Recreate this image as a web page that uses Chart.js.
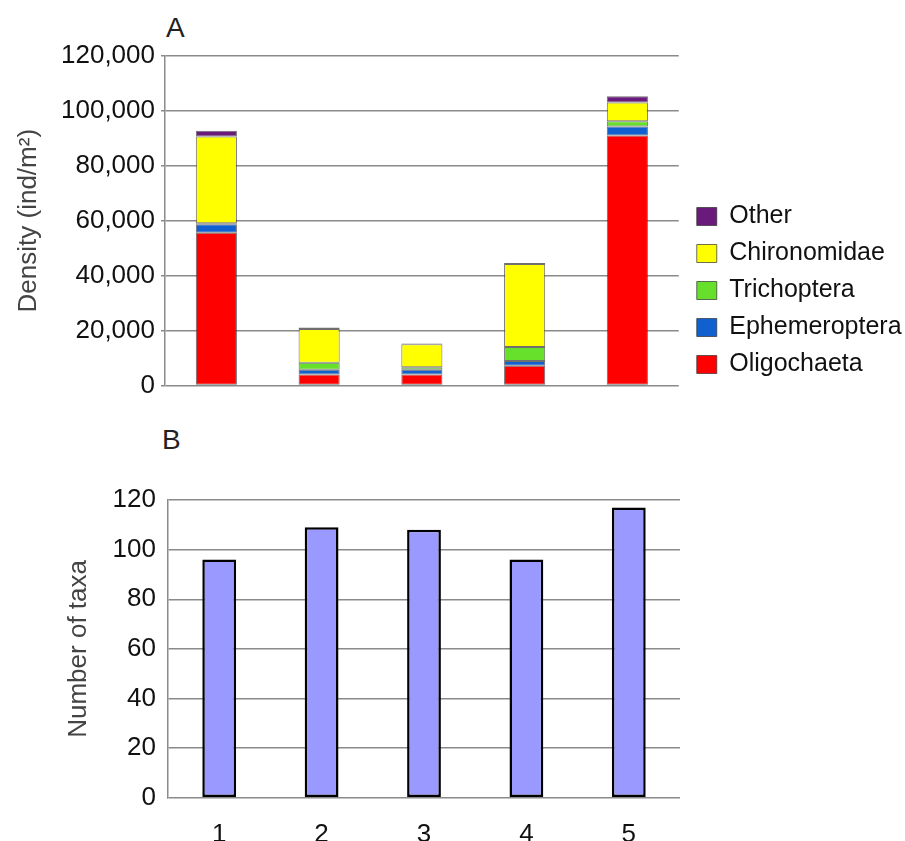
<!DOCTYPE html>
<html>
<head>
<meta charset="utf-8">
<script src="https://cdn.jsdelivr.net/npm/chart.js@4"></script>
<style>
  body { margin: 0; background: #fff; width: 905px; height: 841px; position: relative; overflow: hidden; }
  .panel { position: absolute; left: 0; }
  .tag { position: absolute; font-family: "Liberation Sans", Arial, sans-serif; font-size: 28px; color: #222; }
</style>
</head>
<body>
<div class="tag" style="left:166px; top:12px;">A</div>
<div class="tag" style="left:162px; top:424px;">B</div>
<canvas id="densityChart" class="panel" style="top:0px" width="905" height="407"></canvas>
<canvas id="taxaChart" class="panel" style="top:420px" width="905" height="443"></canvas>
<script>
const sites = ['1', '2', '3', '4', '5'];

// density per group, stacked bottom to top
const oligochaeta = [55600, 4000, 4000, 7200, 91000];
const ephemeroptera = [3150, 1700, 1700, 1700, 3300];
const trichoptera = [300, 2550, 950, 5100, 1900];
const chironomidae = [31650, 12300, 8300, 30200, 6900];
const other = [2100, 500, 300, 400, 2200];

const taxaCount = [96, 109, 108, 96, 117];

const fontFamily = '"Liberation Sans", Arial, sans-serif';
const gridColor = '#8a8a8a';

const densitySets = [
  { label: 'Oligochaeta', data: oligochaeta, backgroundColor: '#ff0000' },
  { label: 'Ephemeroptera', data: ephemeroptera, backgroundColor: '#1060d0' },
  { label: 'Trichoptera', data: trichoptera, backgroundColor: '#66e02a' },
  { label: 'Chironomidae', data: chironomidae, backgroundColor: '#ffff00' },
  { label: 'Other', data: other, backgroundColor: '#6a1a7a' }
].map(d => ({
  ...d,
  borderColor: 'rgba(50,50,50,0.7)',
  borderWidth: 1,
  borderSkipped: false,
  barPercentage: 0.4,
  categoryPercentage: 1
}));

// nudge the legend block up and right a bit, like in the figure
const legendNudge = {
  id: 'legendNudge',
  afterLayout: (chart) => {
    const lg = chart.legend;
    lg.top -= 18;
    lg.bottom -= 18;
    lg.left += 6;
    lg.right += 6;
  }
};

new Chart(document.getElementById('densityChart'), {
  type: 'bar',
  data: { labels: sites, datasets: densitySets },
  plugins: [legendNudge],
  options: {
    responsive: false,
    animation: false,
    layout: { padding: { top: 56, bottom: 0, right: 0 } },
    plugins: {
      tooltip: { enabled: false },
      legend: {
        position: 'right',
        align: 'end',
        reverse: true,
        labels: {
          color: '#111',
          font: { family: fontFamily, size: 25 },
          boxWidth: 20,
          boxHeight: 18,
          padding: 12
        }
      }
    },
    scales: {
      x: {
        stacked: true,
        ticks: { display: false },
        grid: { display: false },
        border: { display: false }
      },
      y: {
        stacked: true,
        min: 0,
        max: 120000,
        ticks: {
          stepSize: 20000,
          color: '#111',
          padding: 6,
          font: { family: fontFamily, size: 26 }
        },
        grid: { color: gridColor, lineWidth: 1.5, tickLength: 4 },
        border: { color: gridColor, width: 1.5 },
        title: {
          display: true,
          text: 'Density (ind/m²)',
          color: '#444',
          font: { family: fontFamily, size: 26 },
          padding: { top: 13, bottom: 4 }
        },
        afterFit: (scale) => { scale.width = 165; }
      }
    }
  }
});

new Chart(document.getElementById('taxaChart'), {
  type: 'bar',
  data: {
    labels: sites,
    datasets: [{
      label: 'Number of taxa',
      data: taxaCount,
      backgroundColor: '#9999ff',
      borderColor: '#000',
      borderWidth: 2.5,
      borderSkipped: false,
      barPercentage: 0.33,
      categoryPercentage: 1
    }]
  },
  options: {
    responsive: false,
    animation: false,
    layout: { padding: { top: 80, right: 225, bottom: 0 } },
    plugins: {
      legend: { display: false },
      tooltip: { enabled: false }
    },
    scales: {
      x: {
        ticks: {
          color: '#111',
          padding: 13,
          font: { family: fontFamily, size: 26 }
        },
        grid: { display: false },
        border: { display: false }
      },
      y: {
        min: 0,
        max: 120,
        ticks: {
          stepSize: 20,
          color: '#111',
          padding: 12,
          font: { family: fontFamily, size: 26 }
        },
        grid: { color: gridColor, lineWidth: 1.5, tickLength: 0 },
        border: { color: gridColor, width: 1.5 },
        title: {
          display: true,
          text: 'Number of taxa',
          color: '#444',
          font: { family: fontFamily, size: 26 },
          padding: { top: 63, bottom: 4 }
        },
        afterFit: (scale) => { scale.width = 168; }
      }
    }
  }
});
</script>
</body>
</html>
